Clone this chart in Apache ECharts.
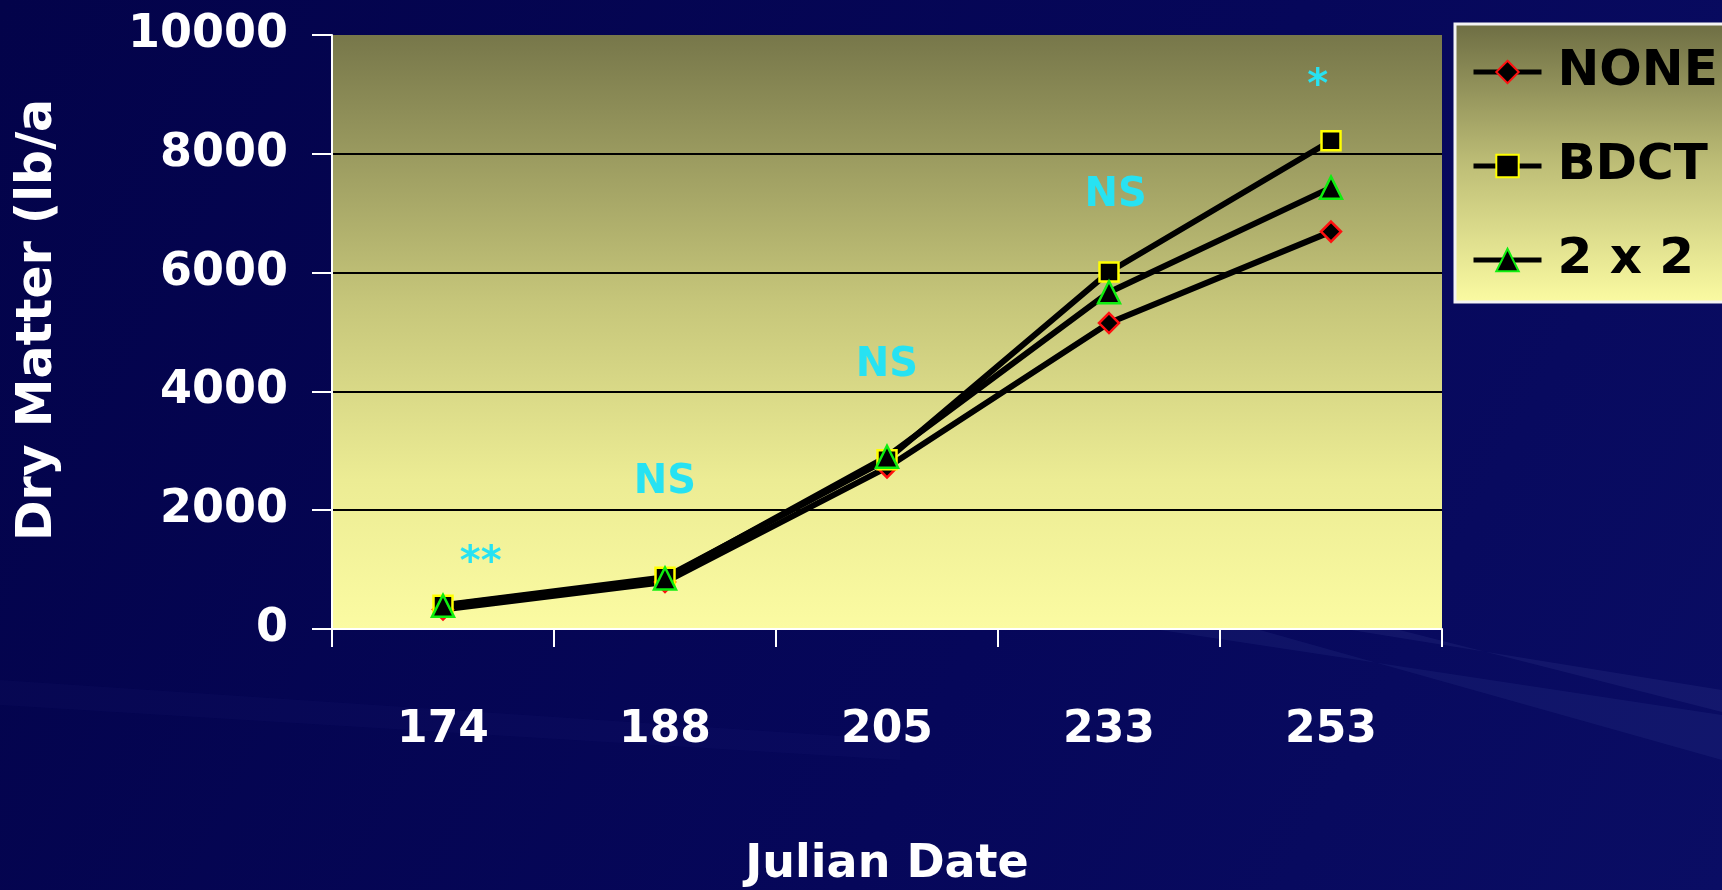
<!DOCTYPE html>
<html>
<head>
<meta charset="utf-8">
<script src="https://cdn.jsdelivr.net/npm/echarts@6/dist/echarts.min.js"></script>
<style>
  html, body { margin: 0; padding: 0; background: #05054f; }
  #chart { width: 1722px; height: 890px; }
</style>
</head>
<body>
<div id="chart"></div>
<script>
// Julian dates of the harvests (category axis)
const julianDates = ['174', '188', '205', '233', '253'];

// Dry matter yield, lb/a, per tillage treatment
const noneValues = [330, 790, 2720, 5150, 6690];
const bdctValues = [400, 870, 2850, 6010, 8220];
const twoByTwoValues = [390, 850, 2900, 5670, 7430];

// Y axis range and step
const yMin = 0;
const yMax = 10000;
const yStep = 2000;

// Significance marks: text, position along dates (index units), height in lb/a
const sigText = ['**', 'NS', 'NS', 'NS', '*'];
const sigAt = [0.17, 1.0, 2.0, 3.03, 3.94];
const sigHeight = [1250, 2460, 4430, 7300, 9290];

const titleFont = '"Comic Sans MS", "DejaVu Sans", sans-serif';
const numberFont = '"Century Gothic", "DejaVu Sans", sans-serif';

const chart = echarts.init(document.getElementById('chart'));

const plotFill = new echarts.graphic.LinearGradient(0, 0, 0, 1, [
  { offset: 0, color: '#77774a' },
  { offset: 0.45, color: '#c6c67a' },
  { offset: 0.75, color: '#ecec94' },
  { offset: 1, color: '#fbfba2' }
]);

const legendFill = new echarts.graphic.LinearGradient(0, 0, 0, 1, [
  { offset: 0, color: '#6d6d43' },
  { offset: 0.5, color: '#bdbd76' },
  { offset: 1, color: '#fbfba2' }
]);

function markerSeries(name, values, symbol, size, edge) {
  return {
    name: name,
    type: 'line',
    data: values,
    symbol: symbol,
    symbolSize: size,
    showAllSymbol: true,
    lineStyle: { color: '#000', width: 6 },
    itemStyle: { color: '#000', borderColor: edge, borderWidth: 2.5 },
    emphasis: { disabled: true },
    animation: false
  };
}

// asterisks sit high in their glyph box, so nudge them down to centre the star
const sigData = sigText.map((t, i) => ({
  value: [sigAt[i], sigHeight[i], t],
  label: { offset: [0, t.indexOf('*') >= 0 ? 9 : 0] }
}));

chart.setOption({
  backgroundColor: new echarts.graphic.LinearGradient(0, 0, 1, 1, [
    { offset: 0, color: '#03034a' },
    { offset: 0.6, color: '#06075a' },
    { offset: 1, color: '#0a0d64' }
  ]),
  animation: false,
  graphic: [
    // faint light streaks across the dark backdrop
    { type: 'polygon', z: -10, silent: true,
      shape: { points: [[1160, 630], [1722, 715], [1722, 760], [1260, 630]] },
      style: { fill: 'rgba(120,140,220,0.08)' } },
    { type: 'polygon', z: -10, silent: true,
      shape: { points: [[1320, 625], [1722, 690], [1722, 712], [1380, 625]] },
      style: { fill: 'rgba(150,170,240,0.07)' } },
    { type: 'polygon', z: -10, silent: true,
      shape: { points: [[0, 680], [900, 740], [900, 760], [0, 705]] },
      style: { fill: 'rgba(100,110,200,0.04)' } },
    {
      type: 'text',
      x: 38, y: 320,
      rotation: Math.PI / 2,
      style: {
        text: 'Dry Matter (lb/a',
        fill: '#ffffff',
        font: 'bold 49px ' + titleFont,
        align: 'center',
        verticalAlign: 'middle'
      }
    },
    {
      type: 'text',
      x: 887, y: 865,
      style: {
        text: 'Julian Date',
        fill: '#ffffff',
        font: 'bold 46px ' + titleFont,
        align: 'center',
        verticalAlign: 'middle'
      }
    }
  ],
  grid: {
    left: 332,
    right: 280,
    top: 35,
    bottom: 261,
    show: true,
    backgroundColor: plotFill,
    borderWidth: 0
  },
  legend: {
    data: ['NONE', 'BDCT', '2 x 2'],
    orient: 'vertical',
    left: 1455,
    top: 24,
    padding: [23, 60, 17, 16],
    itemGap: 44,
    itemWidth: 68,
    itemHeight: 28,
    backgroundColor: legendFill,
    borderColor: '#f4f4f4',
    borderWidth: 3,
    borderRadius: 0,
    selectedMode: false,
    lineStyle: { color: '#000', width: 5 },
    textStyle: {
      color: '#000',
      fontSize: 50,
      fontWeight: 'bold',
      fontFamily: titleFont,
      padding: [0, 0, 0, 11]
    }
  },
  xAxis: [
    {
      type: 'category',
      data: julianDates,
      boundaryGap: true,
      axisLine: { lineStyle: { color: '#ffffff', width: 2 } },
      axisTick: { show: true, length: 18, lineStyle: { color: '#ffffff', width: 2 } },
      axisLabel: {
        color: '#ffffff',
        fontSize: 44,
        fontWeight: 'bold',
        fontFamily: numberFont,
        margin: 80
      },
      splitLine: { show: false }
    },
    {
      type: 'value',
      min: -0.5,
      max: 4.5,
      show: false
    }
  ],
  yAxis: {
    type: 'value',
    min: yMin,
    max: yMax,
    interval: yStep,
    axisLine: { show: true, onZero: false, lineStyle: { color: '#ffffff', width: 2 } },
    axisTick: { show: true, length: 20, lineStyle: { color: '#ffffff', width: 2 } },
    axisLabel: {
      color: '#ffffff',
      fontSize: 46,
      fontWeight: 'bold',
      fontFamily: numberFont,
      margin: 44,
      formatter: v => String(v)
    },
    splitLine: {
      show: true,
      lineStyle: {
        color: ['#000', '#000', '#000', '#000', '#000', 'rgba(0,0,0,0)'],
        width: 2
      }
    }
  },
  series: [
    markerSeries('NONE', noneValues, 'diamond', 20, '#ff1010'),
    markerSeries('BDCT', bdctValues, 'rect', 19, '#ffff00'),
    markerSeries('2 x 2', twoByTwoValues, 'triangle', 22, '#10ee10'),
    {
      name: 'significance',
      type: 'scatter',
      xAxisIndex: 1,
      data: sigData,
      symbolSize: 1,
      itemStyle: { opacity: 0 },
      silent: true,
      z: 5,
      label: {
        show: true,
        position: 'inside',
        formatter: p => p.value[2],
        color: '#27e2f2',
        fontSize: 40,
        fontWeight: 'bold',
        fontFamily: titleFont,
        opacity: 1
      }
    }
  ]
});
</script>
</body>
</html>
